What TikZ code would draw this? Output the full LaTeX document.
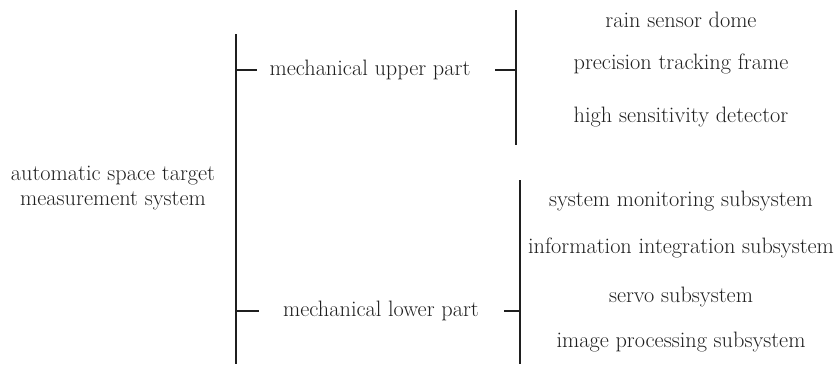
\documentclass[tikz,border=0pt]{standalone}
\usepackage{tikz}
\begin{document}
\begin{tikzpicture}[x=1pt,y=-1pt,
  lbl/.style={inner sep=0pt,align=center,text=black!88,font=\fontsize{22.3}{25}\selectfont},
  bar/.style={line width=1.7pt,black!88}]
\useasboundingbox (0,0) rectangle (837,364);
% texts
\node[lbl] (root) at (113,188) {automatic space target\\measurement system};
\node[lbl] (up) at (370,70) {mechanical upper part};
\node[lbl] (low) at (381,311) {mechanical lower part};
\node[lbl] (u1) at (681,20) {rain sensor dome};
\node[lbl] (u2) at (681,64) {precision tracking frame};
\node[lbl] (u3) at (681,117) {high sensitivity detector};
\node[lbl] (l1) at (681,201) {system monitoring subsystem};
\node[lbl] (l2) at (681,248) {information integration subsystem};
\node[lbl] (l3) at (681,297) {servo subsystem};
\node[lbl] (l4) at (681,342) {image processing subsystem};
% main bracket
\coordinate (mt) at (236,34);
\coordinate (mb) at (236,364);
\coordinate (mu) at (236,70);
\coordinate (ml) at (236,311);
\coordinate (mue) at (257,70);
\coordinate (mle) at (259,311);
\draw[bar] (mt) -- (mb);
\draw[bar] (mu) -- (mue);
\draw[bar] (ml) -- (mle);
% upper bracket
\coordinate (ut) at (516,10);
\coordinate (ub) at (516,145);
\coordinate (um) at (516,70);
\coordinate (us) at (495,70);
\draw[bar] (ut) -- (ub);
\draw[bar] (us) -- (um);
% lower bracket
\coordinate (lt) at (520,180);
\coordinate (lb) at (520,364);
\coordinate (lm) at (520,311);
\coordinate (ls) at (504,311);
\draw[bar] (lt) -- (lb);
\draw[bar] (ls) -- (lm);
\end{tikzpicture}
\end{document}
